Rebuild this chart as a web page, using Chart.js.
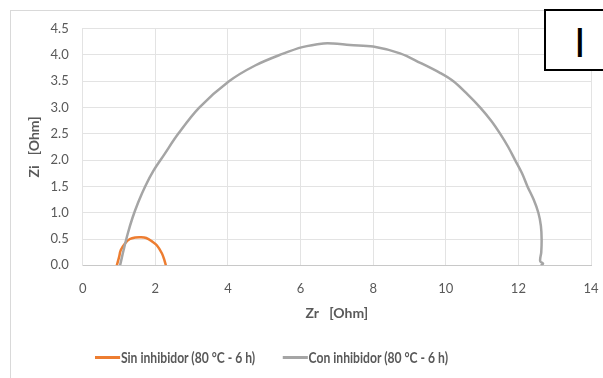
<!DOCTYPE html>
<html>
<head>
<meta charset="utf-8">
<script src="https://cdn.jsdelivr.net/npm/chart.js@4.4.1/dist/chart.umd.min.js"></script>
<style>
  html, body { margin: 0; padding: 0; background: #fff; overflow: hidden; }
  #wrap { position: relative; width: 603px; height: 378px; overflow: hidden; }
  #frame { position: absolute; left: 10px; top: 10px; width: 700px; height: 500px; border: 1px solid #d9d9d9; }
  #chart { position: absolute; left: 0; top: 0; }
  #tag { position: absolute; left: 544px; top: 9px; width: 80px; height: 58px; border: 2px solid #000; background: #fff; }
  #tag span { position: absolute; left: 28px; top: 11px; font: 42px/42px "Liberation Sans", Arial, sans-serif; color: #000; }
  #legend { position: absolute; top: 348px; left: 95px; display: flex; white-space: nowrap; font: bold 15px/18px Lato, sans-serif; color: #595959; transform-origin: 0 50%; }
  #legend .item { display: flex; align-items: center; margin-right: 34px; }
  #legend .swatch { width: 31px; height: 3px; margin-right: 1px; }
</style>
</head>
<body>
<div id="wrap">
  <div id="frame"></div>
  <canvas id="chart" width="603" height="378"></canvas>
  <div id="tag"><span>I</span></div>
  <div id="legend"></div>
</div>
<script>
// Nyquist data, Zr / Zi in Ohm
var seriesNames = ['Sin inhibidor (80 °C - 6 h)', 'Con inhibidor (80 °C - 6 h)'];
var seriesColors = ['#ED7D31', '#A5A5A5'];

var zrSin = [0.94, 1.0, 1.05, 1.17, 1.3, 1.45, 1.6, 1.75, 1.9, 2.04, 2.18, 2.25, 2.29];
var ziSin = [0.0, 0.15, 0.29, 0.42, 0.5, 0.53, 0.535, 0.52, 0.46, 0.38, 0.23, 0.1, 0.0];

var zrCon = [1.03, 1.13, 1.24, 1.37, 1.53, 1.72, 1.95, 2.24, 2.63, 3.21, 4.03, 4.75, 5.5, 6.05, 6.63, 6.9, 7.36, 8.0, 8.74, 9.3, 9.84, 10.21, 10.6, 10.95, 11.25, 11.5, 11.72, 11.91, 12.1, 12.25, 12.42, 12.55, 12.62, 12.64, 12.63, 12.6, 12.68, 12.62];
var ziCon = [0.0, 0.3, 0.6, 0.9, 1.2, 1.5, 1.8, 2.1, 2.5, 3.0, 3.5, 3.8, 4.02, 4.15, 4.22, 4.22, 4.19, 4.16, 4.03, 3.85, 3.66, 3.5, 3.25, 3.0, 2.75, 2.5, 2.25, 2.0, 1.75, 1.5, 1.25, 1.0, 0.75, 0.5, 0.25, 0.08, 0.03, 0.0];

var xTicks = [0, 2, 4, 6, 8, 10, 12, 14];
var yTicks = [0, 0.5, 1, 1.5, 2, 2.5, 3, 3.5, 4, 4.5];

function toPoints(xs, ys) {
  return xs.map((x, i) => ({ x: x, y: ys[i] }));
}

var textColor = '#595959';
var gridColor = '#e3e3e3';

var chart = new Chart(document.getElementById('chart'), {
  type: 'scatter',
  data: {
    datasets: [
      {
        label: seriesNames[0],
        data: toPoints(zrSin, ziSin),
        borderColor: seriesColors[0],
        backgroundColor: seriesColors[0],
        borderWidth: 2.5,
        showLine: true,
        pointRadius: 0,
        tension: 0.35,
        order: 1
      },
      {
        label: seriesNames[1],
        data: toPoints(zrCon, ziCon),
        borderColor: seriesColors[1],
        backgroundColor: seriesColors[1],
        borderWidth: 2.5,
        showLine: true,
        pointRadius: 0,
        tension: 0.35,
        order: 0
      }
    ]
  },
  options: {
    responsive: false,
    animation: false,
    layout: { padding: { left: 10, top: 28.7, right: 12, bottom: 38 } },
    plugins: {
      legend: { display: false },
      tooltip: { enabled: false }
    },
    scales: {
      x: {
        type: 'linear',
        min: 0,
        max: 14,
        afterBuildTicks: (axis) => { axis.ticks = xTicks.map(v => ({ value: v })); },
        afterFit: (axis) => {
          axis.height = 74.7;
          axis.paddingLeft = 0;
          axis.paddingRight = 0;
        },
        ticks: { color: textColor, font: { family: 'Lato', size: 13 }, padding: 16 },
        grid: { color: gridColor, drawTicks: false },
        border: { color: '#c8c8c8' },
        title: {
          display: true,
          text: 'Zr   [Ohm]',
          color: textColor,
          font: { family: 'Lato', size: 14, weight: 'bold' },
          padding: { top: 19, bottom: 18 }
        }
      },
      y: {
        type: 'linear',
        min: 0,
        max: 4.5,
        afterBuildTicks: (axis) => { axis.ticks = yTicks.map(v => ({ value: v })); },
        afterFit: (axis) => {
          axis.width = 72.7;
          axis.paddingTop = 0;
          axis.paddingBottom = 0;
        },
        ticks: {
          color: textColor,
          font: { family: 'Lato', size: 13 },
          padding: 14,
          callback: (v) => v.toFixed(1)
        },
        grid: { color: gridColor, drawTicks: false },
        border: { color: gridColor },
        title: {
          display: true,
          text: 'Zi   [Ohm]',
          color: textColor,
          font: { family: 'Lato', size: 14, weight: 'bold' },
          padding: { top: 16, bottom: 0 }
        }
      }
    }
  }
});

// legend row under the plot, squeezed to the narrow legend width
var legend = document.getElementById('legend');
seriesNames.forEach((name, i) => {
  var item = document.createElement('div');
  item.className = 'item';
  var sw = document.createElement('span');
  sw.className = 'swatch';
  sw.style.background = seriesColors[i];
  var txt = document.createElement('span');
  txt.textContent = name;
  item.appendChild(sw);
  item.appendChild(txt);
  legend.appendChild(item);
});
var fullWidth = legend.getBoundingClientRect().width - 34;
legend.style.transform = 'scaleX(' + (353 / fullWidth) + ')';
</script>
</body>
</html>
